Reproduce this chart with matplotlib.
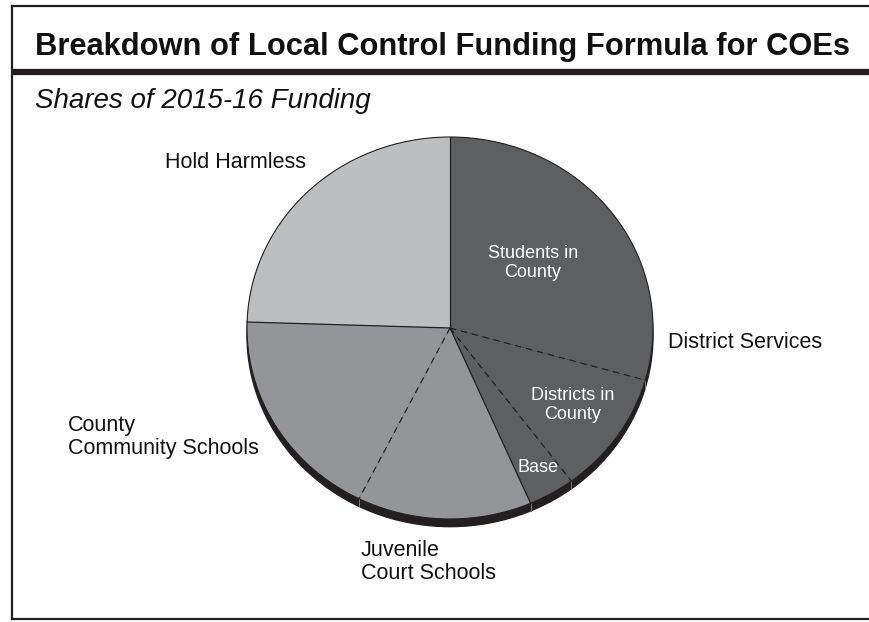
import matplotlib.pyplot as plt
from matplotlib.patches import Circle
import numpy as np

plt.rcParams['font.family'] = ['Liberation Sans', 'DejaVu Sans']

# shares of 2015-16 funding (percent), clockwise from 12 o'clock
slices = ['Students in County', 'Districts in County', 'Base',
          'Juvenile Court Schools', 'County Community Schools', 'Hold Harmless']
shares = [29.4, 10.4, 3.7, 13.9, 18.1, 24.5]
groups = ['District Services', 'District Services', 'District Services',
          'Alternative', 'Alternative', 'Hold Harmless']
group_colors = {'District Services': '#5e5f61',
                'Alternative': '#939598',
                'Hold Harmless': '#bdbec0'}
edge = '#231f20'

W, H = 869, 622
fig = plt.figure(figsize=(W / 100, H / 100), dpi=100)

# background axes in pixel units, for frame and labels
bg = fig.add_axes([0, 0, 1, 1])
bg.set_xlim(0, W)
bg.set_ylim(H, 0)
bg.axis('off')
bg.plot([12, W], [6, 6], color=edge, lw=1.6)
bg.plot([12, 12], [6, 619], color=edge, lw=1.6)
bg.plot([12, W], [619, 619], color=edge, lw=1.6)
bg.plot([12, W], [72, 72], color=edge, lw=4.5, solid_capstyle='butt')

bg.text(35, 47, 'Breakdown of Local Control Funding Formula for COEs',
        fontsize=22.2, fontweight='bold', va='center', ha='left', color='#111111')
bg.text(35, 101, 'Shares of 2015-16 Funding', fontsize=20, style='italic',
        va='center', ha='left', color='#111111')

# pie axes: ellipse, center (450, 328) px, rx 203, ry 191
cx, cy, rx, ry = 450, 328, 203, 191
ax = fig.add_axes([(cx - rx) / W, (H - cy - ry) / H, 2 * rx / W, 2 * ry / H])
colors = [group_colors[g] for g in groups]
wedges, _ = ax.pie(shares, colors=colors, startangle=90, counterclock=False,
                   wedgeprops=dict(linewidth=0))
ax.set_aspect('auto')
ax.set_xlim(-1, 1)
ax.set_ylim(-1, 1)
ax.axis('off')

# 3d-ish shadow under the pie
off = 0.04
ax.add_patch(Circle((0, -off), 1.0, color=edge, zorder=-1, clip_on=False))
ax.add_patch(Circle((0, 0), 1.0, fill=False, ec=edge, lw=0.8, zorder=3, clip_on=False))

# boundary lines: solid between groups, dashed inside a group
n = len(wedges)
for i, w in enumerate(wedges):
    # with clockwise drawing, theta1 is the edge shared with the next slice
    t = np.deg2rad(w.theta1)
    nxt = groups[(i + 1) % n]
    style = '-' if nxt != groups[i] else (0, (5, 4))
    ax.plot([0, np.cos(t)], [0, np.sin(t)], color=edge, lw=0.9,
            linestyle=style, zorder=4, clip_on=False)
    if np.sin(t) < 0:
        ax.plot([np.cos(t), np.cos(t)], [np.sin(t), np.sin(t) - off],
                color='#8a8a8a', lw=0.6, zorder=0, clip_on=False)

# labels
tr = bg.transData
kw = dict(transform=tr, fontsize=15.5, color='#111111', linespacing=1.1)
fig.text(165, 163, 'Hold Harmless', va='center', ha='left', **kw)
fig.text(668, 342, 'District Services', va='center', ha='left', **kw)
fig.text(68, 437, 'County\nCommunity Schools', va='center', ha='left', **kw)
fig.text(361, 562, 'Juvenile\nCourt Schools', va='center', ha='left', **kw)

wkw = dict(transform=tr, fontsize=13, color='white', linespacing=1.15,
           ha='center', va='center')
fig.text(533, 263, 'Students in\nCounty', **wkw)
fig.text(573, 405, 'Districts in\nCounty', **wkw)
fig.text(538, 467, 'Base', **wkw)

fig.savefig('out.png', dpi=100)
